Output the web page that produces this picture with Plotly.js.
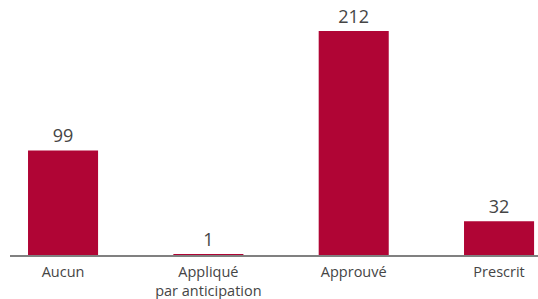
<!DOCTYPE html>
<html>
<head>
<meta charset="utf-8">
<script src="https://cdn.plot.ly/plotly-3.0.1.min.js"></script>
<style>html,body{margin:0;padding:0;background:#fff;}#chart{width:538px;height:299px;}</style>
</head>
<body>
<div id="chart"></div>
<script>
const categories = ["Aucun", "Appliqué<br>par anticipation", "Approuvé", "Prescrit"];
const values = [99, 1, 212, 32];
const valueLabels = ["99", "1", "212", "32"];

const trace = {
  type: "bar",
  x: categories,
  y: values,
  text: valueLabels,
  textposition: "outside",
  cliponaxis: false,
  textfont: {family: "Open Sans, sans-serif", size: 18, color: "#454545"},
  marker: {color: "#B00535"},
  hoverinfo: "none"
};

const layout = {
  width: 538,
  height: 299,
  margin: {l: 10, r: 0, t: 0, b: 44},
  paper_bgcolor: "#ffffff",
  plot_bgcolor: "#ffffff",
  bargap: 0.518,
  showlegend: false,
  font: {family: "Open Sans, sans-serif", color: "#454545"},
  xaxis: {
    type: "category",
    range: [-0.365, 3.268],
    showline: true,
    linecolor: "#808080",
    linewidth: 1.5,
    showgrid: false,
    ticks: "",
    ticklabelstandoff: 3,
    tickfont: {size: 14.5, color: "#454545"},
    fixedrange: true
  },
  yaxis: {
    range: [0, 241.3],
    visible: false,
    showgrid: false,
    zeroline: false,
    fixedrange: true
  }
};

Plotly.newPlot("chart", [trace], layout, {displayModeBar: false, staticPlot: true});
</script>
</body>
</html>
